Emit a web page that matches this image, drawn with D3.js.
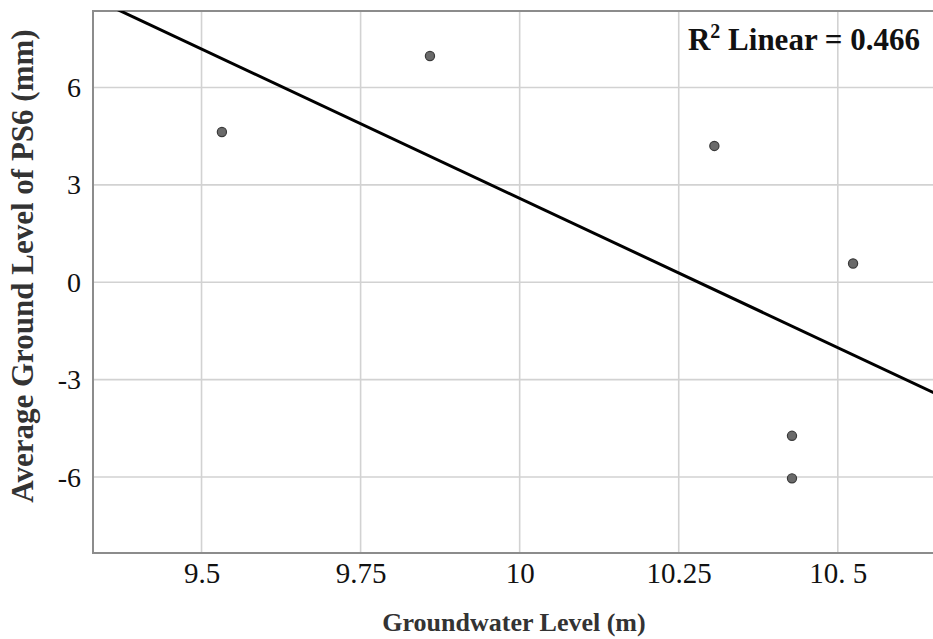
<!DOCTYPE html>
<html>
<head>
<meta charset="utf-8">
<script src="https://cdn.jsdelivr.net/npm/d3@7/dist/d3.min.js"></script>
<style>
  html, body { margin: 0; padding: 0; background: #fff; }
  svg { display: block; }
</style>
</head>
<body>
<svg id="chart" width="933" height="639"></svg>
<script>
// Groundwater level (m) vs. average ground level of PS6 (mm)
const groundwater = [9.532, 9.859, 10.306, 10.524, 10.428, 10.428];
const groundLevel = [4.63, 6.97, 4.20, 0.58, -4.73, -6.04];

const xTickValues = [9.5, 9.75, 10, 10.25, 10.5];
const xTickLabels = ["9.5", "9.75", "10", "10.25", "10. 5"];
const yTickValues = [6, 3, 0, -3, -6];
const yTickLabels = ["6", "3", "0", "-3", "-6"];

const xTitle = "Groundwater Level (m)";
const yTitle = "Average Ground Level of PS6 (mm)";

const svg = d3.select("#chart");
const plot = { left: 93, top: 11, right: 945, bottom: 553 };

const x = d3.scaleLinear().domain([9.3294, 10.6685]).range([plot.left, plot.right]);
const y = d3.scaleLinear().domain([-8.34, 8.357]).range([plot.bottom, plot.top]);

const serif = "'Liberation Serif', 'Times New Roman', serif";

// Least-squares fit and R²
const n = groundwater.length;
const mx = d3.mean(groundwater), my = d3.mean(groundLevel);
let sxy = 0, sxx = 0, syy = 0;
for (let i = 0; i < n; i++) {
  const dx = groundwater[i] - mx, dy = groundLevel[i] - my;
  sxy += dx * dy; sxx += dx * dx; syy += dy * dy;
}
const slope = sxy / sxx;
const intercept = my - slope * mx;
const r2 = (sxy * sxy) / (sxx * syy);

svg.append("defs").append("clipPath").attr("id", "plotClip")
  .append("rect")
  .attr("x", plot.left).attr("y", plot.top)
  .attr("width", plot.right - plot.left).attr("height", plot.bottom - plot.top);

// Gridlines
const grid = svg.append("g");
grid.selectAll("line.vx").data(xTickValues).join("line")
  .attr("x1", d => x(d)).attr("x2", d => x(d))
  .attr("y1", plot.top).attr("y2", plot.bottom)
  .attr("stroke", "#d2d2d2").attr("stroke-width", 1.6);
grid.selectAll("line.hy").data(yTickValues).join("line")
  .attr("x1", plot.left).attr("x2", plot.right)
  .attr("y1", d => y(d)).attr("y2", d => y(d))
  .attr("stroke", "#d2d2d2").attr("stroke-width", 1.6);

// Plot frame
svg.append("rect")
  .attr("x", plot.left).attr("y", plot.top)
  .attr("width", plot.right - plot.left).attr("height", plot.bottom - plot.top)
  .attr("fill", "none").attr("stroke", "#8c8c8c").attr("stroke-width", 2);

// Axes (labels only; lines drawn by the frame)
const xAxis = d3.axisBottom(x).tickValues(xTickValues)
  .tickFormat((d, i) => xTickLabels[i]).tickSize(0).tickPadding(9);
const gx = svg.append("g").attr("transform", `translate(0,${plot.bottom})`).call(xAxis);
gx.select(".domain").remove();
gx.selectAll("text").attr("font-family", serif).attr("font-size", 29).attr("fill", "#111");

const yAxis = d3.axisLeft(y).tickValues(yTickValues)
  .tickFormat((d, i) => yTickLabels[i]).tickSize(0).tickPadding(12);
const gy = svg.append("g").attr("transform", `translate(${plot.left},0)`).call(yAxis);
gy.select(".domain").remove();
gy.selectAll("text").attr("font-family", serif).attr("font-size", 28).attr("fill", "#111");

// Fit line
const x0 = x.domain()[0], x1 = x.domain()[1];
svg.append("line")
  .attr("clip-path", "url(#plotClip)")
  .attr("x1", x(x0)).attr("y1", y(slope * x0 + intercept))
  .attr("x2", x(x1)).attr("y2", y(slope * x1 + intercept))
  .attr("stroke", "#000").attr("stroke-width", 3);

// Points
svg.append("g").selectAll("circle").data(groundwater).join("circle")
  .attr("cx", d => x(d))
  .attr("cy", (d, i) => y(groundLevel[i]))
  .attr("r", 4.6)
  .attr("fill", "#6a6a6a").attr("stroke", "#3a3a3a").attr("stroke-width", 1.2);

// R² annotation
const ann = svg.append("text")
  .attr("x", 920).attr("y", 50).attr("text-anchor", "end")
  .attr("font-family", serif).attr("font-weight", "bold").attr("font-size", 31).attr("fill", "#111");
ann.append("tspan").text("R");
ann.append("tspan").attr("dy", -12).attr("font-size", 20).text("2");
ann.append("tspan").attr("dy", 12).text(" Linear = " + r2.toFixed(3));

// Axis titles
svg.append("text")
  .attr("x", 514).attr("y", 631).attr("text-anchor", "middle")
  .attr("font-family", serif).attr("font-weight", "bold").attr("font-size", 26).attr("fill", "#333")
  .text(xTitle);

svg.append("text")
  .attr("transform", "translate(33,266) rotate(-90)")
  .attr("text-anchor", "middle")
  .attr("font-family", serif).attr("font-weight", "bold").attr("font-size", 31).attr("fill", "#333")
  .text(yTitle);
</script>
</body>
</html>
